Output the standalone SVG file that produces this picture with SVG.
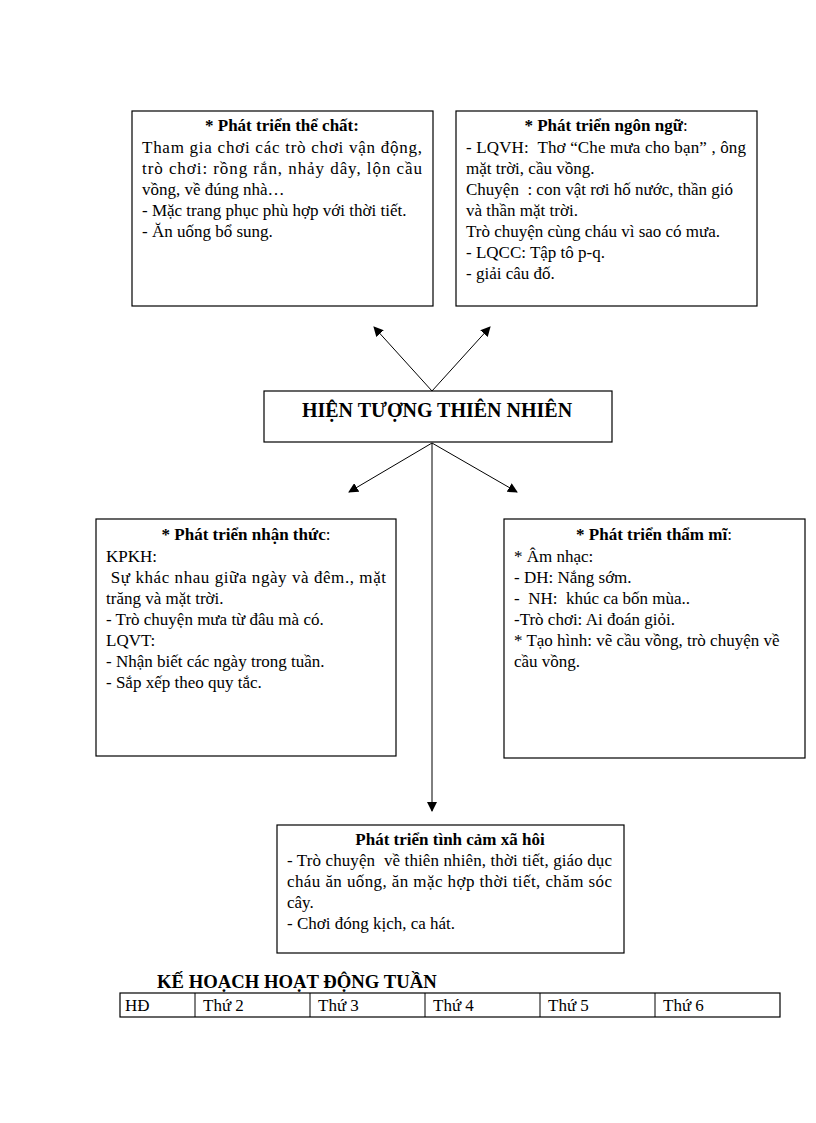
<svg xmlns="http://www.w3.org/2000/svg" width="816" height="1123" viewBox="0 0 816 1123">
<defs>
<marker id="ah" viewBox="0 0 10 10" refX="9" refY="5" markerWidth="10" markerHeight="10" markerUnits="userSpaceOnUse" orient="auto">
<path d="M0,0 L10,5 L0,10 Z" fill="#000"/>
</marker>
<style>
.box{fill:#fff;stroke:#000;stroke-width:1.2}
.t{font-family:"Liberation Serif","Times New Roman",serif;font-size:17px;fill:#000}
.b{font-family:"Liberation Serif","Times New Roman",serif;font-size:17px;font-weight:bold;fill:#000}
.c{font-family:"Liberation Serif","Times New Roman",serif;font-size:20px;font-weight:bold;fill:#000}
.h{font-family:"Liberation Serif","Times New Roman",serif;font-size:18.7px;font-weight:bold;fill:#000}
.ln{stroke:#000;stroke-width:1;fill:none}
</style>
</defs>
<rect width="816" height="1123" fill="#fff"/>
<g id="connectors">
<line class="ln" x1="432" y1="391" x2="374" y2="327" marker-end="url(#ah)"/>
<line class="ln" x1="432" y1="391" x2="490" y2="327" marker-end="url(#ah)"/>
<line class="ln" x1="432" y1="443" x2="349" y2="492" marker-end="url(#ah)"/>
<line class="ln" x1="432" y1="443" x2="517" y2="492" marker-end="url(#ah)"/>
<line class="ln" x1="432" y1="443" x2="432" y2="811" marker-end="url(#ah)"/>
</g>
<g id="node-the-chat">
<rect class="box" x="132" y="111" width="301" height="195"/>
<text class="b" x="282" y="131" text-anchor="middle">* Phát triển thể chất:</text>
<text class="t" x="142" y="153" textLength="280" lengthAdjust="spacing">Tham gia chơi các trò chơi vận động,</text>
<text class="t" x="142" y="174" textLength="280" lengthAdjust="spacing">trò chơi: rồng rắn, nhảy dây, lộn cầu</text>
<text class="t" x="142" y="195">vồng, về đúng nhà…</text>
<text class="t" x="142" y="216">- Mặc trang phục phù hợp với thời tiết.</text>
<text class="t" x="142" y="237">- Ăn uống bổ sung.</text>
</g>
<g id="node-ngon-ngu">
<rect class="box" x="456" y="111" width="301" height="195"/>
<text class="b" x="606" y="131" text-anchor="middle">* Phát triển ngôn ngữ<tspan font-weight="normal">:</tspan></text>
<text class="t" x="466" y="153" textLength="280" lengthAdjust="spacing" xml:space="preserve">- LQVH:  Thơ “Che mưa cho bạn” , ông</text>
<text class="t" x="466" y="174">mặt trời, cầu vồng.</text>
<text class="t" x="466" y="195" xml:space="preserve">Chuyện  : con vật rơi hố nước, thần gió</text>
<text class="t" x="466" y="216">và thần mặt trời.</text>
<text class="t" x="466" y="237">Trò chuyện cùng cháu vì sao có mưa.</text>
<text class="t" x="466" y="258">- LQCC: Tập tô p-q.</text>
<text class="t" x="466" y="279">- giải câu đố.</text>
</g>
<g id="node-center">
<rect class="box" x="264" y="391" width="348" height="51"/>
<text class="c" x="437" y="417" text-anchor="middle">HIỆN TƯỢNG THIÊN NHIÊN</text>
</g>
<g id="node-nhan-thuc">
<rect class="box" x="96" y="519" width="300" height="237"/>
<text class="b" x="246" y="540" text-anchor="middle">* Phát triển nhận thức<tspan font-weight="normal">:</tspan></text>
<text class="t" x="106" y="562">KPKH:</text>
<text class="t" x="106" y="583" textLength="280" lengthAdjust="spacing" xml:space="preserve"> Sự khác nhau giữa ngày và đêm., mặt</text>
<text class="t" x="106" y="604">trăng và mặt trời.</text>
<text class="t" x="106" y="625">- Trò chuyện mưa từ đâu mà có.</text>
<text class="t" x="106" y="646">LQVT:</text>
<text class="t" x="106" y="667">- Nhận biết các ngày trong tuần.</text>
<text class="t" x="106" y="688">- Sắp xếp theo quy tắc.</text>
</g>
<g id="node-tham-mi">
<rect class="box" x="504" y="519" width="301" height="239"/>
<text class="b" x="654" y="540" text-anchor="middle">* Phát triển thẩm mĩ<tspan font-weight="normal">:</tspan></text>
<text class="t" x="514" y="562">* Âm nhạc:</text>
<text class="t" x="514" y="583">- DH: Nắng sớm.</text>
<text class="t" x="514" y="604" xml:space="preserve">-  NH:  khúc ca bốn mùa..</text>
<text class="t" x="514" y="625">-Trò chơi: Ai đoán giỏi.</text>
<text class="t" x="514" y="646">* Tạo hình: vẽ cầu vồng, trò chuyện về</text>
<text class="t" x="514" y="667">cầu vồng.</text>
</g>
<g id="node-tinh-cam">
<rect class="box" x="277" y="825" width="347" height="128"/>
<text class="b" x="450" y="845" text-anchor="middle">Phát triển tình cảm xã hôi</text>
<text class="t" x="287" y="866" textLength="325" lengthAdjust="spacing" xml:space="preserve">- Trò chuyện  về thiên nhiên, thời tiết, giáo dục</text>
<text class="t" x="287" y="887" textLength="325" lengthAdjust="spacing">cháu ăn uống, ăn mặc hợp thời tiết, chăm sóc</text>
<text class="t" x="287" y="908">cây.</text>
<text class="t" x="287" y="929">- Chơi đóng kịch, ca hát.</text>
</g>
<g id="table">
<text class="h" x="157" y="988">KẾ HOẠCH HOẠT ĐỘNG TUẦN</text>
<rect class="box" x="120" y="993" width="660" height="24"/>
<line class="ln" x1="195" y1="993" x2="195" y2="1017"/>
<line class="ln" x1="310" y1="993" x2="310" y2="1017"/>
<line class="ln" x1="425" y1="993" x2="425" y2="1017"/>
<line class="ln" x1="540" y1="993" x2="540" y2="1017"/>
<line class="ln" x1="655" y1="993" x2="655" y2="1017"/>
<text class="t" x="125" y="1011">HĐ</text>
<text class="t" x="203" y="1011">Thứ 2</text>
<text class="t" x="318" y="1011">Thứ 3</text>
<text class="t" x="433" y="1011">Thứ 4</text>
<text class="t" x="548" y="1011">Thứ 5</text>
<text class="t" x="663" y="1011">Thứ 6</text>
</g>
</svg>
